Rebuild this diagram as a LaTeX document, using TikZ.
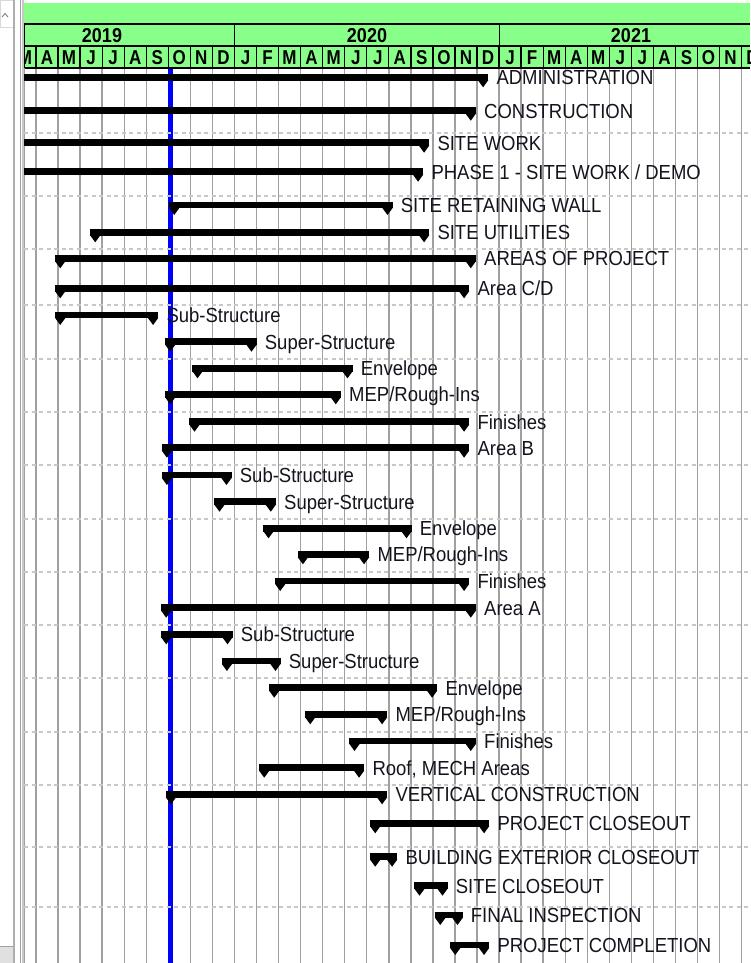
\documentclass[tikz,border=0pt]{standalone}
\usepackage{fontspec}
\usepackage{graphicx}
\setmainfont{Liberation Sans}
\definecolor{hdrgreen}{RGB}{136,255,136}
\definecolor{gridgray}{RGB}{160,160,160}
\definecolor{dashgray}{RGB}{200,200,200}
\definecolor{todayblue}{RGB}{0,0,255}
\definecolor{labeltext}{RGB}{20,20,30}
\tikzset{
  gridline/.style={draw=gridgray, line width=1.4pt},
  dashline/.style={draw=dashgray, line width=1.2pt, dash pattern=on 4pt off 3.5pt},
  hdrline/.style={draw=black, line width=1.3pt},
  yearlbl/.style={font=\fontsize{18}{18}\selectfont\bfseries, inner sep=0pt, anchor=center},
  monthlbl/.style={font=\fontsize{17}{17}\selectfont\bfseries, inner sep=0pt, anchor=center},
  tasklbl/.style={font=\fontsize{18.5}{18.5}\selectfont, inner sep=0pt, anchor=base west, text=labeltext},
  barfill/.style={fill=black},
}
\newcommand\ganttbar[5]{% #1 name, #2 centre y, #3 start x, #4 end x, #5 text
  \fill[barfill] (#3,#2-3.4) rectangle (#4,#2+3.4);
  \fill[barfill] (#3,#2+2.8) -- (#3+10.5,#2+2.8) -- (#3+5.2,#2+10) -- cycle;
  \fill[barfill] (#4,#2+2.8) -- (#4-10.5,#2+2.8) -- (#4-5.2,#2+10) -- cycle;
  \node[tasklbl] (#1) at (#4+8,#2+7.6) {\scalebox{1}[1.1]{#5}};
}
\begin{document}
\begin{tikzpicture}[x=1pt,y=-1pt]
\useasboundingbox (0,0) rectangle (750,963);
\fill[white] (0,0) rectangle (750,963);
% left panel
\draw[draw=black!15, line width=0.8pt] (0,0.4) rectangle (13,27);
\draw[gray, line width=0.9pt] (2,17) -- (5,13.5) -- (8,17);
\fill[gridgray!85] (12.7,0) rectangle (15.3,963);
\fill[black!12] (0,946) rectangle (12.7,963);
\draw[gridgray, line width=0.8pt] (0,946) -- (12.7,946);
\draw[gridgray, line width=1pt] (20.8,0) -- (20.8,963);
\draw[dashgray, line width=1.6pt] (23,0) -- (23,963);
\begin{scope}
\clip (24,0) rectangle (750,963);
% header
\fill[hdrgreen] (24,3.3) rectangle (750,68);
\foreach \k/\m in {-1/M,0/A,1/M,2/J,3/J,4/A,5/S,6/O,7/N,8/D,9/J,10/F,11/M,12/A,13/M,14/J,15/J,16/A,17/S,18/O,19/N,20/D,21/J,22/F,23/M,24/A,25/M,26/J,27/J,28/A,29/S,30/O,31/N,32/D}{
  \node[monthlbl] (mon\k) at ({36+22.05*(\k+0.5)},57.5) {\scalebox{1}[1.18]{\m}};
}
\foreach \k in {0,...,32}{
  \draw[hdrline] ({36+22.05*\k},46) -- ({36+22.05*\k},68);
}
\draw[hdrline] (24,24) -- (750,24);
\draw[hdrline] (24,46) -- (750,46);
\draw[hdrline] (24,68) -- (750,68);
\draw[hdrline] (24.6,24) -- (24.6,68);
\draw[hdrline] (234.7,24) -- (234.7,68);
\draw[hdrline] (499.3,24) -- (499.3,68);
\node[yearlbl] (y2019) at (102,36) {\scalebox{1}[1.12]{2019}};
\node[yearlbl] (y2020) at (367,36) {\scalebox{1}[1.12]{2020}};
\node[yearlbl] (y2021) at (631,36) {\scalebox{1}[1.12]{2021}};
% chart grid
\draw[gridline] (24.6,68) -- (24.6,963);
\foreach \k in {0,...,32}{
  \draw[gridline] ({36+22.05*\k},68.6) -- ({36+22.05*\k},963);
}
\draw[todayblue, line width=5pt] (170,68.6) -- (170,963);
\foreach \y in {133,196,249,305,359,412,465,519,572,625,678,732,785,847,907}{
  \draw[dashline] (24,\y) -- (750,\y);
}
% bars
\ganttbar{t1}{77.3}{0}{488.3}{ADMINISTRATION}
\ganttbar{t2}{110.7}{0}{476}{CONSTRUCTION}
\ganttbar{t3}{142.7}{0}{429.3}{SITE WORK}
\ganttbar{t4}{171.7}{0}{423.3}{PHASE 1 - SITE WORK / DEMO}
\ganttbar{t5}{205}{169}{392.7}{SITE RETAINING WALL}
\ganttbar{t6}{232.3}{90}{429.3}{SITE UTILITIES}
\ganttbar{t7}{258.3}{55}{476}{AREAS OF PROJECT}
\ganttbar{t8}{288.3}{55}{469.3}{Area C/D}
\ganttbar{t9}{315}{55}{158.3}{Sub-Structure}
\ganttbar{t10}{341.7}{165}{256.7}{Super-Structure}
\ganttbar{t11}{368.3}{192.3}{352.7}{Envelope}
\ganttbar{t12}{394.3}{165}{341}{MEP/Rough-Ins}
\ganttbar{t13}{421.7}{189.3}{469.3}{Finishes}
\ganttbar{t14}{447.7}{161.7}{469.3}{Area B}
\ganttbar{t15}{475}{161.7}{231.7}{Sub-Structure}
\ganttbar{t16}{501.7}{214.3}{276}{Super-Structure}
\ganttbar{t17}{528.3}{263.3}{411.7}{Envelope}
\ganttbar{t18}{554.3}{297.7}{369.3}{MEP/Rough-Ins}
\ganttbar{t19}{581}{275}{469.3}{Finishes}
\ganttbar{t20}{607.7}{161}{476}{Area A}
\ganttbar{t21}{634.3}{161}{232.7}{Sub-Structure}
\ganttbar{t22}{661}{221.7}{280.7}{Super-Structure}
\ganttbar{t23}{687.7}{269}{437.3}{Envelope}
\ganttbar{t24}{714.3}{305}{387.3}{MEP/Rough-Ins}
\ganttbar{t25}{741}{349.3}{476}{Finishes}
\ganttbar{t26}{767.7}{259}{364.3}{Roof, MECH Areas}
\ganttbar{t27}{794.3}{165.7}{387.3}{VERTICAL CONSTRUCTION}
\ganttbar{t28}{823.3}{370}{489.3}{PROJECT CLOSEOUT}
\ganttbar{t29}{856.7}{370}{397.3}{BUILDING EXTERIOR CLOSEOUT}
\ganttbar{t30}{885.7}{414.3}{447.7}{SITE CLOSEOUT}
\ganttbar{t31}{915}{435}{462.7}{FINAL INSPECTION}
\ganttbar{t32}{945}{450}{489.3}{PROJECT COMPLETION}
\end{scope}
\end{tikzpicture}
\end{document}
